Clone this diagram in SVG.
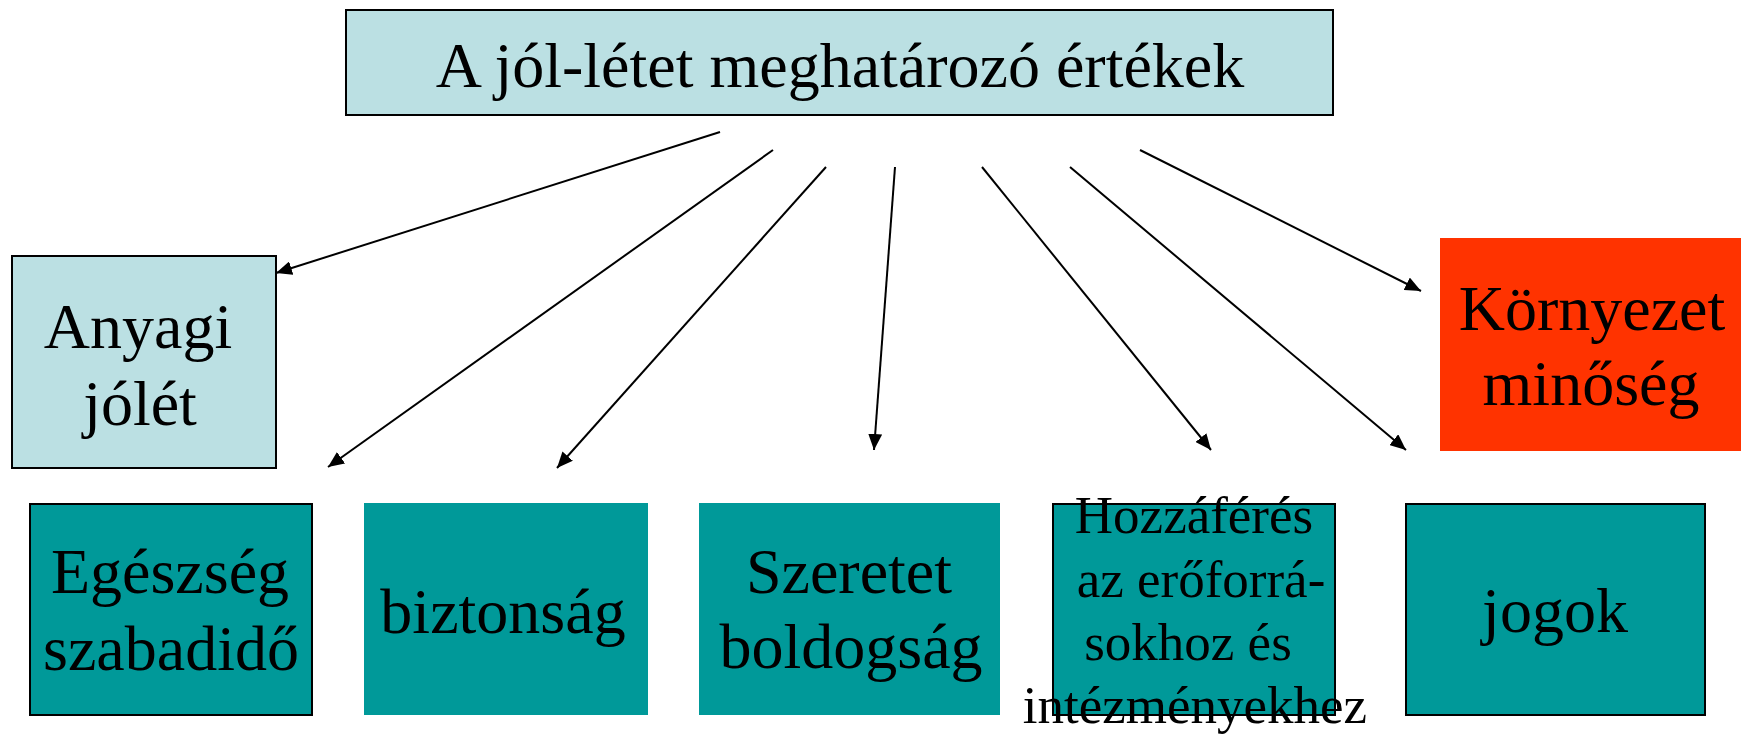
<svg xmlns="http://www.w3.org/2000/svg" width="1741" height="736" viewBox="0 0 1741 736">
<style>
text{font-family:"Liberation Serif","Times New Roman",serif;font-size:64px;fill:#000;text-anchor:middle}
.sm{font-size:53px}
.light{fill:#BBE0E3;stroke:#000;stroke-width:2}
.teal{fill:#009999}
.teals{fill:#009999;stroke:#000;stroke-width:2}
.red{fill:#FF3300}
.conn line{stroke:#000;stroke-width:2;marker-end:url(#ah)}
</style>
<defs>
<marker id="ah" viewBox="0 0 16 14" refX="16" refY="7" markerWidth="16" markerHeight="14" markerUnits="userSpaceOnUse" orient="auto">
<path d="M0,0 L16,7 L0,14 Z" fill="#000"/>
</marker>
</defs>
<rect width="1741" height="736" fill="#fff"/>
<g id="top">
<rect class="light" x="346" y="10" width="987" height="105"/>
<text x="840" y="87">A jól-létet meghatározó értékek</text>
</g>
<g id="anyagi">
<rect class="light" x="12" y="256" width="264" height="212"/>
<text x="138" y="348">Anyagi</text>
<text x="140" y="425">jólét</text>
</g>
<g id="kornyezet">
<rect class="red" x="1440" y="238" width="301" height="213"/>
<text x="1592" y="330">Környezet</text>
<text x="1591" y="405">minőség</text>
</g>
<g id="egeszseg">
<rect class="teals" x="30" y="504" width="282" height="211"/>
<text x="170" y="593">Egészség</text>
<text x="171" y="670">szabadidő</text>
</g>
<g id="biztonsag">
<rect class="teal" x="364" y="503" width="284" height="212"/>
<text x="503" y="633">biztonság</text>
</g>
<g id="szeretet">
<rect class="teal" x="699" y="503" width="301" height="212"/>
<text x="849" y="593">Szeretet</text>
<text x="851" y="668">boldogság</text>
</g>
<g id="hozzaferes">
<rect class="teals" x="1053" y="504" width="282" height="211"/>
<text class="sm" x="1194" y="533">Hozzáférés</text>
<text class="sm" x="1201" y="597">az erőforrá-</text>
<text class="sm" x="1188" y="660">sokhoz és</text>
<text class="sm" x="1195" y="723">intézményekhez</text>
</g>
<g id="jogok">
<rect class="teals" x="1406" y="504" width="299" height="211"/>
<text x="1555" y="632">jogok</text>
</g>
<g id="connectors" class="conn">
<line x1="720" y1="132" x2="276" y2="273"/>
<line x1="773" y1="150" x2="328" y2="467"/>
<line x1="826" y1="167" x2="557" y2="468"/>
<line x1="895" y1="167" x2="874" y2="450"/>
<line x1="982" y1="167" x2="1211" y2="450"/>
<line x1="1070" y1="167" x2="1406" y2="450"/>
<line x1="1140" y1="150" x2="1421" y2="291"/>
</g>
</svg>
